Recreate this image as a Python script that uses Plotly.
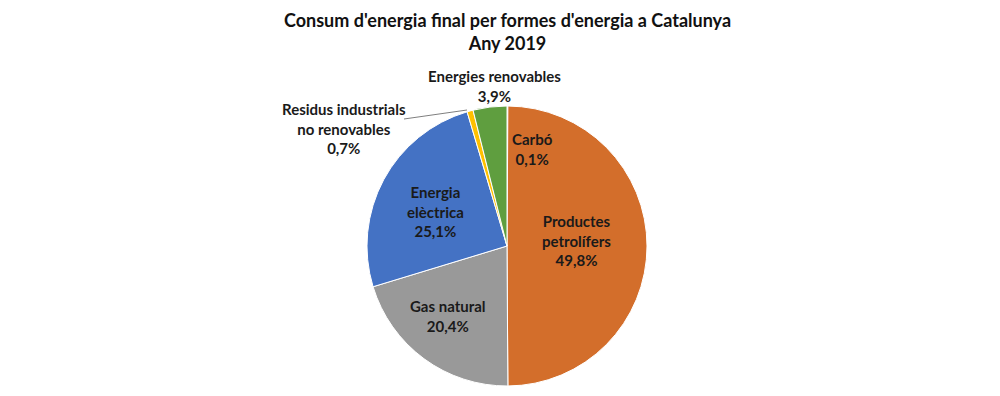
import plotly.graph_objects as go

W, H = 1000, 396

labels = ["Carbó", "Productes petrolífers", "Gas natural", "Energia elèctrica",
          "Residus industrials no renovables", "Energies renovables"]
values = [0.1, 49.8, 20.4, 25.1, 0.7, 3.9]
colors = ["#C9D3C0", "#D36E2B", "#999999", "#4472C4", "#FFC000", "#5F9E3F"]
label_text = ["Carbó<br>0,1%", "Productes<br>petrolífers<br>49,8%", "Gas natural<br>20,4%",
              "Energia<br>elèctrica<br>25,1%", "Residus industrials<br>no renovables<br>0,7%",
              "Energies renovables<br>3,9%"]
# label centre positions in pixels (x, y)
label_pos = [(532, 149), (576, 240), (448, 316), (435, 211), (344, 128), (494, 86)]

cx, cy, r = 507, 246, 140

fig = go.Figure(go.Pie(
    labels=labels, values=values, sort=False, direction="clockwise", rotation=0,
    marker=dict(colors=colors, line=dict(color="white", width=1)),
    textinfo="none", hoverinfo="label+percent", showlegend=False,
    domain=dict(x=[(cx - r) / W, (cx + r) / W], y=[1 - (cy + r) / H, 1 - (cy - r) / H]),
))

font = "Lato, Calibri, 'Open Sans', sans-serif"
anns = []
for t, (px, py) in zip(label_text, label_pos):
    anns.append(dict(text=t, x=px / W, y=1 - py / H, xref="paper", yref="paper",
                     showarrow=False, xanchor="center", yanchor="middle",
                     font=dict(family=font, size=15, color="#1A1A1A", weight="bold")))
anns.append(dict(text="Consum d'energia final per formes d'energia a Catalunya<br>Any 2019",
                 x=507 / W, y=1 - 31 / H, xref="paper", yref="paper", showarrow=False,
                 xanchor="center", yanchor="middle",
                 font=dict(family=font, size=18, color="#111111", weight="bold")))

fig.update_layout(
    width=W, height=H, margin=dict(l=0, r=0, t=0, b=0),
    paper_bgcolor="white", plot_bgcolor="white",
    annotations=anns,
    shapes=[dict(type="line", xref="paper", yref="paper",
                 x0=404 / W, y0=1 - 119 / H, x1=467 / W, y1=1 - 110 / H,
                 line=dict(color="#7F7F7F", width=1))],
)

fig.write_html("out.html", config={"displayModeBar": False},
               post_script="document.body.style.margin='0';")
